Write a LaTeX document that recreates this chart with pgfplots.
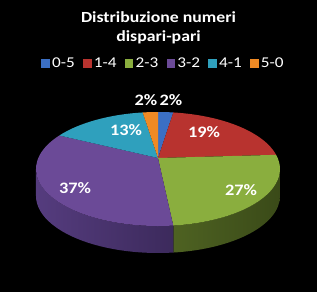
\documentclass[border=0pt]{standalone}
\usepackage{pgfplots}
\pgfplotsset{compat=1.18}
\usepackage{fontspec}
\setmainfont[FakeStretch=1.15]{Carlito}
\definecolor{cblue}{HTML}{3B6FC4}
\definecolor{cred}{HTML}{B8332F}
\definecolor{cgreen}{HTML}{8AAE3E}
\definecolor{cpurple}{HTML}{6B4A97}
\definecolor{ccyan}{HTML}{2FA0BD}
\definecolor{corange}{HTML}{F08A24}
\definecolor{cgreenside}{HTML}{4E6222}
\definecolor{cgreenside2}{HTML}{3A4A18}
\definecolor{cpurpleside}{HTML}{553C7E}
\definecolor{cpurpleside2}{HTML}{3C2A5C}
% geometry (axis units = bp)
\def\cx{158}\def\cy{123}\def\rx{122}\def\ry{57}\def\ax{158}\def\ay{134}\def\dep{27}
% slice of top face: start %, end %, colour
\newcommand{\slice}[3]{\pgfplotsextra{%
  \pgfmathsetmacro{\sa}{90-3.6*#1}%
  \pgfmathsetmacro{\ea}{90-3.6*#2}%
  \fill[#3] (axis cs:\ax,\ay) -- (axis cs:{\cx+\rx*cos(\sa)},{\cy+\ry*sin(\sa)})
    arc[start angle=\sa, end angle=\ea, x radius=\rx bp, y radius=\ry bp] -- cycle;}}
% front side: start %, end %, left colour, right colour
\newcommand{\side}[4]{\pgfplotsextra{%
  \pgfmathsetmacro{\sa}{90-3.6*#1}%
  \pgfmathsetmacro{\ea}{90-3.6*#2}%
  \shade[left color=#3, right color=#4] (axis cs:{\cx+\rx*cos(\sa)},{\cy+\ry*sin(\sa)})
    arc[start angle=\sa, end angle=\ea, x radius=\rx bp, y radius=\ry bp]
    -- ++(0,-\dep bp)
    arc[start angle=\ea, end angle=\sa, x radius=\rx bp, y radius=\ry bp] -- cycle;}}
\pgfplotsset{sq/.style={legend image code/.code={\fill[#1] (0bp,-3.8bp) rectangle (7.6bp,3.8bp);}}}
\begin{document}
\begin{tikzpicture}
\begin{axis}[
  x=1bp, y=1bp, xmin=0, xmax=317, ymin=0, ymax=292,
  hide axis, clip=false,
  title={Distribuzione numeri\\dispari-pari},
  title style={at={(0.5,1)}, anchor=north, yshift=-14bp, align=center,
    text=white, font=\bfseries\fontsize{15.5}{19.5}\selectfont},
  legend columns=6,
  legend style={at={(0.517,0.784)}, anchor=center, draw=none, fill=none,
    text=white, font=\fontsize{15}{15}\selectfont, inner sep=0pt,
    nodes={inner sep=2.8bp},
    /tikz/every even column/.append style={column sep=5.5bp}},
]
\fill[black] (axis cs:0,0) rectangle (axis cs:317,292);
\addlegendimage{sq=cblue}
\addlegendentry{0-5}
\addlegendimage{sq=cred}
\addlegendentry{1-4}
\addlegendimage{sq=cgreen}
\addlegendentry{2-3}
\addlegendimage{sq=cpurple}
\addlegendentry{3-2}
\addlegendimage{sq=ccyan}
\addlegendentry{4-1}
\addlegendimage{sq=corange}
\addlegendentry{5-0}
% values: 0-5: 2, 1-4: 19, 2-3: 27, 3-2: 37, 4-1: 13, 5-0: 2
\side{25}{48}{cgreenside}{cgreenside2}
\side{48}{75}{cpurpleside}{cpurpleside2}
\slice{0}{2}{cblue}
\slice{2}{21}{cred}
\slice{21}{48}{cgreen}
\slice{48}{85}{cpurple}
\slice{85}{98}{ccyan}
\slice{98}{100}{corange}
\begin{scope}[every node/.style={text=white, font=\bfseries\fontsize{16}{18}\selectfont}]
\node at (axis cs:146,192) {2\%};
\node at (axis cs:171,192) {2\%};
\node at (axis cs:204,160) {19\%};
\node at (axis cs:126,162) {13\%};
\node at (axis cs:75,104) {37\%};
\node at (axis cs:241,102) {27\%};
\end{scope}
\end{axis}
\end{tikzpicture}
\end{document}
